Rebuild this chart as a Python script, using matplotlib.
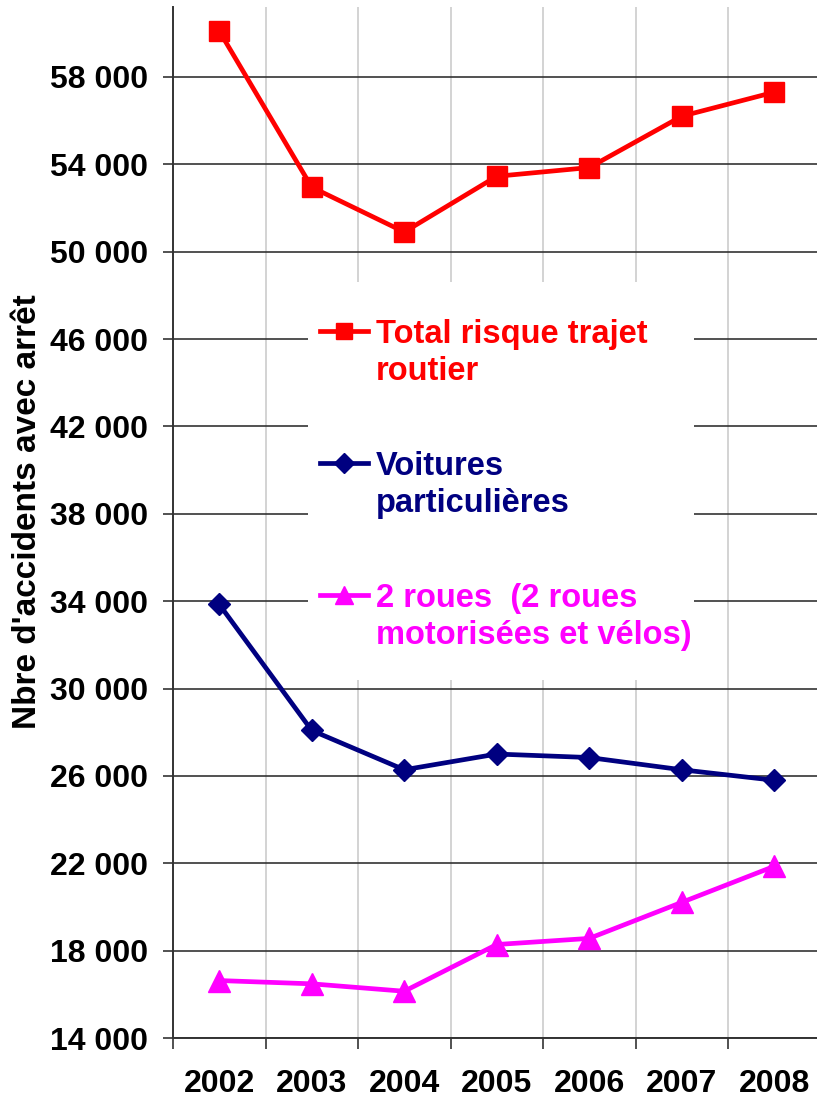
import matplotlib
matplotlib.use("Agg")
import matplotlib.pyplot as plt
from matplotlib.lines import Line2D
from matplotlib.patches import Rectangle
import numpy as np

# donnees
annees = ["2002", "2003", "2004", "2005", "2006", "2007", "2008"]
total_trajet = [60100, 52950, 50900, 53450, 53850, 56200, 57300]
voitures = [33850, 28080, 26280, 27000, 26840, 26280, 25800]
deux_roues = [16630, 16480, 16140, 18280, 18560, 20210, 21860]
y_ticks = [14000, 18000, 22000, 26000, 30000, 34000, 38000, 42000,
           46000, 50000, 54000, 58000]

series = [
    (total_trajet, "#FF0000", "s", 14, ["Total risque trajet", "routier"]),
    (voitures, "#000080", "D", 11.5, ["Voitures", "particulières"]),
    (deux_roues, "#FF00FF", "^", 15.5, ["2 roues  (2 roues", "motorisées et vélos)"]),
]

plt.rcParams['font.family'] = ['Liberation Sans', 'DejaVu Sans']
plt.rcParams['font.weight'] = 'bold'

W, H = 817, 1099
fig = plt.figure(figsize=(W / 100, H / 100), dpi=100)

# cadre du graphique en pixels
x0, x1 = 173, 820.5
y_top, y_bot = 7, 1038
ax = fig.add_axes([x0 / W, (H - y_bot) / H, (x1 - x0) / W, (y_bot - y_top) / H])

x = np.arange(len(annees))
ax.set_xlim(-0.5, len(annees) - 0.5)
ax.set_ylim(14000, 61200)

ax.set_yticks(y_ticks)
ax.set_yticklabels([f"{v:,}".replace(",", " ") for v in y_ticks], fontsize=23, fontweight='bold')
ax.set_xticks(x)
ax.set_xticklabels(annees, fontsize=23, fontweight='bold')
ax.set_xticks(np.arange(-0.5, len(annees), 1), minor=True)

ax.tick_params(axis='x', which='major', length=0, pad=22)
ax.tick_params(axis='x', which='minor', length=8, width=1.2, direction='out', color='#333333')
ax.tick_params(axis='y', length=7, width=1.2, direction='out', pad=11, color='#333333')

ax.set_axisbelow(True)
ax.grid(axis='y', which='major', color='#333333', linewidth=1.2)
ax.grid(axis='x', which='minor', color='#d0d0d0', linewidth=1.3)

for side in ['top', 'right']:
    ax.spines[side].set_visible(False)
for side in ['left', 'bottom']:
    ax.spines[side].set_color('#333333')
    ax.spines[side].set_linewidth(1.4)

ax.set_ylabel("Nbre d'accidents avec arrêt", fontsize=24, fontweight='bold')
ax.yaxis.set_label_coords((43 - x0) / (x1 - x0), (y_bot - 512) / (y_bot - y_top))

for vals, col, mk, ms, _ in series:
    ax.plot(x, vals, color=col, linewidth=3.4, marker=mk, markersize=ms,
            markeredgecolor=col, zorder=3, clip_on=False)

# legende dessinee a la main (symbole aligne sur la premiere ligne)
def ax_xy(px, py):
    return ((px - x0) / (x1 - x0), (y_bot - py) / (y_bot - y_top))

lx0, ly0 = ax_xy(308, 680)
lx1, ly1 = ax_xy(694, 282)
ax.add_patch(Rectangle((lx0, ly0), lx1 - lx0, ly1 - ly0, transform=ax.transAxes,
                       facecolor='white', edgecolor='none', zorder=1))

base = 343
for i, (vals, col, mk, ms, lab) in enumerate(series):
    b = base + i * 132
    ha, ya = ax_xy(320, b - 12)
    hb, _ = ax_xy(368, b - 12)
    hm, _ = ax_xy(344, b - 12)
    ax.add_line(Line2D([ha, hb], [ya, ya], color=col, linewidth=3.4, transform=ax.transAxes, zorder=3))
    ax.add_line(Line2D([hm], [ya], color=col, marker=mk, markersize=ms * 0.85,
                       transform=ax.transAxes, zorder=3))
    for j, txt in enumerate(lab):
        tx, ty = ax_xy(376, b + j * 37)
        ax.text(tx, ty, txt, transform=ax.transAxes, color=col, fontsize=23.5,
                fontweight='bold', va='baseline', ha='left', zorder=4)

fig.savefig("out.png", dpi=100)
